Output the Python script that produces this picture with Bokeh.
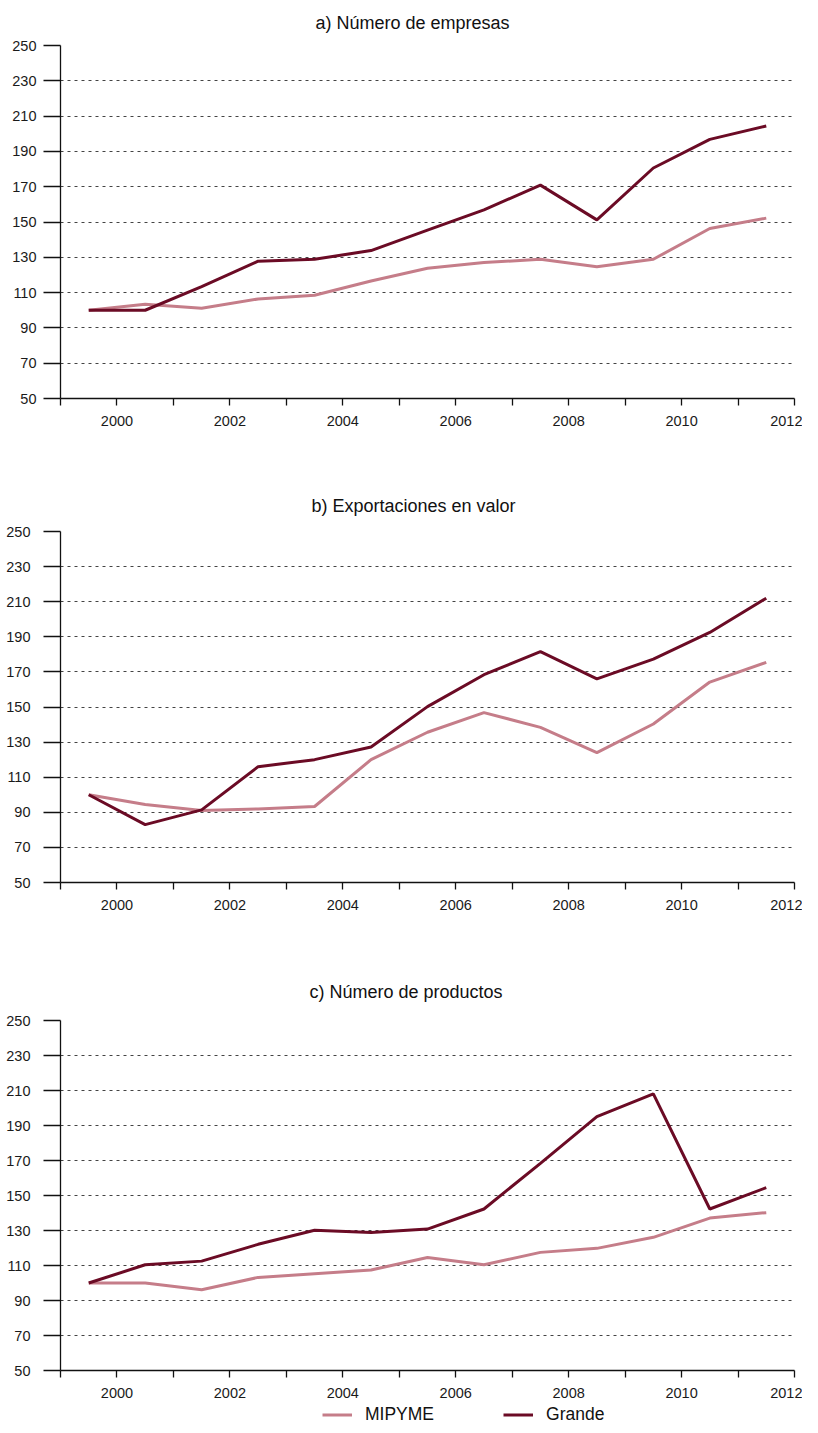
from bokeh.plotting import figure
from bokeh.models import Range1d, FixedTicker, Title, Legend, LegendItem
from bokeh.layouts import column
from bokeh.embed import file_html
from bokeh.resources import INLINE

# ---------------- data ----------------
years = list(range(2000, 2013))
titles = ["a) Número de empresas", "b) Exportaciones en valor", "c) Número de productos"]
series_names = ["MIPYME", "Grande"]

empresas_mipyme = [100, 103.4, 101.1, 106.4, 108.5, 116.6, 123.8, 127.0, 128.9, 124.6, 128.9, 146.3, 152.2]
empresas_grande = [100, 100.0, 113.4, 127.8, 128.9, 133.8, 145.4, 156.9, 170.9, 151.2, 180.6, 196.8, 204.4]

export_mipyme = [100, 94.4, 91.0, 91.9, 93.3, 120.0, 135.6, 146.8, 138.4, 124.0, 140.3, 164.2, 175.4]
export_grande = [100, 83.0, 91.4, 116.0, 120.0, 127.2, 150.2, 168.4, 181.5, 166.0, 177.3, 192.5, 212.0]

productos_mipyme = [100, 100.0, 96.1, 103.2, 105.3, 107.4, 114.6, 110.4, 117.5, 119.8, 126.1, 137.1, 140.2]
productos_grande = [100, 110.4, 112.5, 122.1, 130.1, 128.9, 130.8, 142.3, 168.4, 195.1, 208.1, 142.3, 154.5]

y_ticks = list(range(50, 251, 20))
x_ticks = list(range(1999, 2013))
x_tick_labels = {t: (str(t) if t % 2 == 0 else "") for t in x_ticks}

# ---------------- style ----------------
FONT = "Liberation Sans"
C_MIPYME = "#C57D89"
C_GRANDE = "#6B0B25"
AXIS_C = "#111111"

panels = [
    dict(title=titles[0], mip=empresas_mipyme, gra=empresas_grande,
         height=470, left=53, top=45, bottom=72, standoff=7,
         t_off=255, t_stand=22, t_valign="top"),
    dict(title=titles[1], mip=export_mipyme, gra=export_grande,
         height=490, left=56, top=61, bottom=78, standoff=13,
         t_off=251, t_stand=32, t_valign="bottom"),
    dict(title=titles[2], mip=productos_mipyme, gra=productos_grande,
         height=444, left=60, top=60, bottom=34, standoff=13,
         t_off=249, t_stand=37, t_valign="bottom"),
]

WIDTH = 802
RIGHT = 8
xs = [y - 0.5 for y in years]

figs = []
for i, spec in enumerate(panels):
    p = figure(width=WIDTH, height=spec["height"],
               x_range=Range1d(1999, 2012), y_range=Range1d(50, 250),
               output_backend="svg", toolbar_location=None,
               min_border_left=spec["left"], min_border_right=RIGHT,
               min_border_top=spec["top"], min_border_bottom=spec["bottom"])
    p.outline_line_color = None
    p.background_fill_color = "white"
    p.border_fill_color = "white"

    # x axis
    p.xaxis.ticker = FixedTicker(ticks=x_ticks)
    p.xaxis.major_label_overrides = x_tick_labels
    p.xaxis.minor_tick_line_color = None
    p.xaxis.major_tick_in = 0
    p.xaxis.major_tick_out = 7
    p.xaxis.major_label_standoff = 10
    # y axis
    p.yaxis.ticker = FixedTicker(ticks=y_ticks)
    p.yaxis.minor_tick_line_color = None
    p.yaxis.major_tick_in = 0
    p.yaxis.major_tick_out = 17
    p.yaxis.major_label_standoff = spec["standoff"]
    for ax in (p.xaxis, p.yaxis):
        ax.axis_line_color = AXIS_C
        ax.axis_line_width = 1.3
        ax.major_tick_line_color = AXIS_C
        ax.major_tick_line_width = 1.3
        ax.major_label_text_font = FONT
        ax.major_label_text_font_size = "14.5px"
        ax.major_label_text_color = "#1a1a1a"

    p.xgrid.visible = False
    p.ygrid.ticker = FixedTicker(ticks=y_ticks[1:])
    p.ygrid.grid_line_color = "#444444"
    p.ygrid.grid_line_width = 1
    p.ygrid.grid_line_dash = "3 4"

    p.line(xs, spec["mip"], line_color=C_MIPYME, line_width=3)
    p.line(xs, spec["gra"], line_color=C_GRANDE, line_width=3)

    p.add_layout(Title(text=spec["title"], align="left", offset=spec["t_off"],
                       standoff=spec["t_stand"], vertical_align=spec["t_valign"],
                       text_font=FONT, text_font_size="18px",
                       text_font_style="normal", text_color="#111111"), "above")
    figs.append(p)

# ---------------- legend strip ----------------
lg = figure(width=WIDTH, height=21, x_range=Range1d(1999, 2012), y_range=Range1d(50, 250),
            x_axis_type=None, y_axis_type=None, output_backend="svg",
            toolbar_location=None, min_border=0)
lg.outline_line_color = None
lg.xgrid.visible = False
lg.ygrid.visible = False
l1 = lg.line(xs, productos_mipyme, line_color=C_MIPYME, line_width=3, visible=False)
l2 = lg.line(xs, productos_grande, line_color=C_GRANDE, line_width=3, visible=False)
legend = Legend(items=[LegendItem(label=series_names[0], renderers=[l1]),
                       LegendItem(label=series_names[1], renderers=[l2])],
                orientation="horizontal", location=(262, 0),
                glyph_width=30, glyph_height=21, label_height=21,
                label_standoff=13, spacing=69,
                padding=0, margin=0, border_line_color=None,
                background_fill_alpha=0, click_policy="none",
                label_text_font=FONT, label_text_font_size="17.5px",
                label_text_color="#111111")
lg.add_layout(legend)
figs.append(lg)

layout = column(*figs, spacing=0)
open("out.html", "w").write(file_html(layout, INLINE))
